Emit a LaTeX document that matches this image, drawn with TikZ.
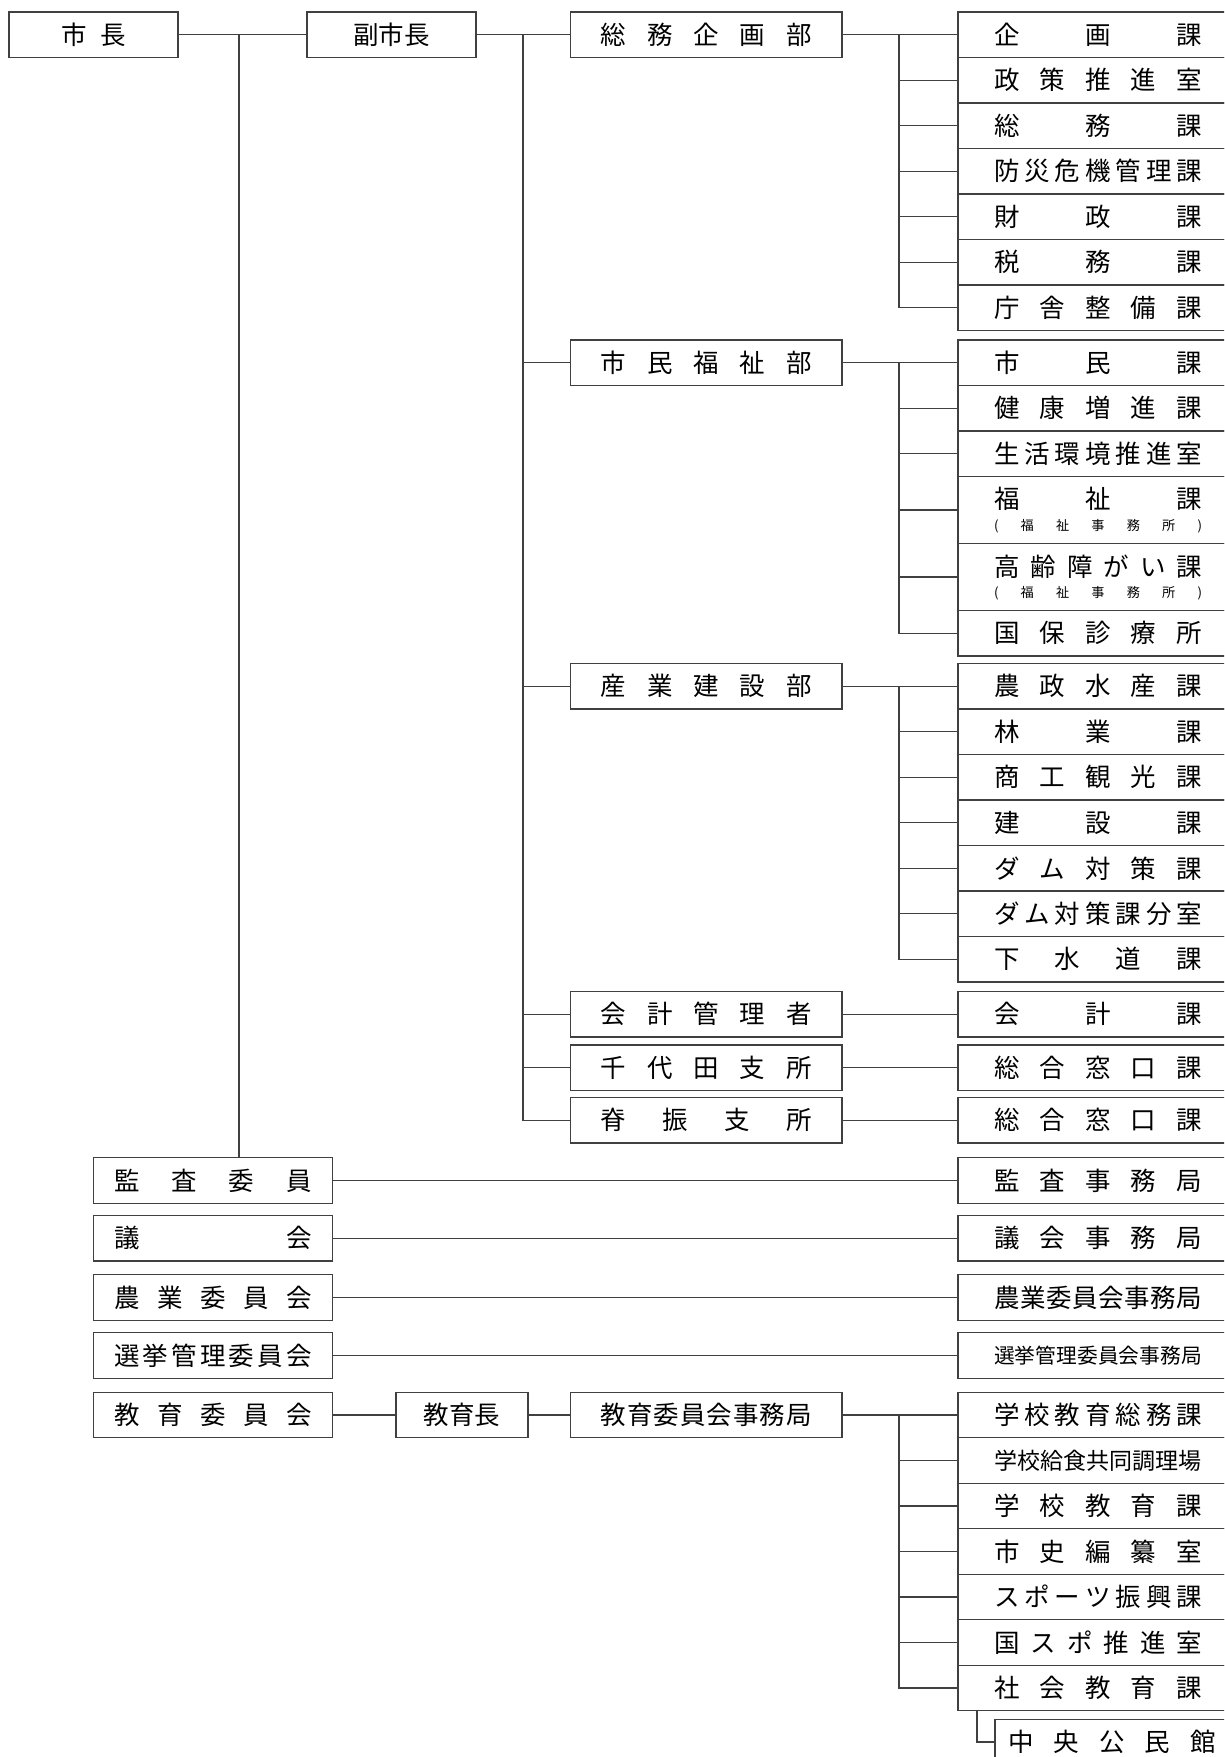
\documentclass[tikz,border=0pt]{standalone}
\usepackage{fontspec}
\setmainfont{Noto Sans CJK JP}
\newcommand\fmain{\fontsize{14.5}{17}\selectfont}
\newcommand\fsmall{\fontsize{7.5}{9}\selectfont}
\newcommand\fmid{\fontsize{13.1}{15}\selectfont}
\newcommand\fnarrow{\fontsize{11.8}{14}\selectfont}
\newcommand\sprR[1]{\makebox[4.16cm][s]{#1}}
\newcommand\sprD[1]{\makebox[4.22cm][s]{#1}}
\newcommand\sprL[1]{\makebox[3.96cm][s]{#1}}
\begin{document}
\begin{tikzpicture}[x=0.02cm,y=-0.02cm,
  orgbox/.style={draw=black!75, line width=0.7pt, fill=white, inner sep=0pt, minimum height=0.91cm, font=\fmain},
  secbox/.style={orgbox, minimum width=5.6cm},
  deptbox/.style={orgbox, minimum width=5.43cm},
  cmtbox/.style={orgbox, minimum width=4.79cm},
  topbox/.style={orgbox, minimum width=3.38cm},
  tallbox/.style={secbox, minimum height=1.34cm},
  txt/.style={inner sep=0pt, font=\fmain},
  conn/.style={draw=black!75, line width=0.7pt}]
\useasboundingbox (0,0) rectangle (1224,1757);
\clip (0,0) rectangle (1224,1757);

\node[topbox] (mayor) at (93.5,34.75) {\makebox[1.3cm][s]{市\hfill 長}};
\node[topbox] (vice) at (391.5,34.75) {副市長};

\node[deptbox] (soumu) at (706.3,34.75) {\sprD{総\hfill 務\hfill 企\hfill 画\hfill 部}};
\node[secbox] (kikaku) at (1098,34.75) {\sprR{企\hfill 画\hfill 課}};
\node[secbox] (seisaku) at (1098,80.25) {\sprR{政\hfill 策\hfill 推\hfill 進\hfill 室}};
\node[secbox] (soumuka) at (1098,125.75) {\sprR{総\hfill 務\hfill 課}};
\node[secbox] (bousai) at (1098,171.25) {\sprR{防\hfill 災\hfill 危\hfill 機\hfill 管\hfill 理\hfill 課}};
\node[secbox] (zaisei) at (1098,216.75) {\sprR{財\hfill 政\hfill 課}};
\node[secbox] (zeimu) at (1098,262.25) {\sprR{税\hfill 務\hfill 課}};
\node[secbox] (choosha) at (1098,307.75) {\sprR{庁\hfill 舎\hfill 整\hfill 備\hfill 課}};

\node[deptbox] (shimin) at (706.3,362.75) {\sprD{市\hfill 民\hfill 福\hfill 祉\hfill 部}};
\node[secbox] (shiminka) at (1098,362.75) {\sprR{市\hfill 民\hfill 課}};
\node[secbox] (kenkou) at (1098,408.25) {\sprR{健\hfill 康\hfill 増\hfill 進\hfill 課}};
\node[secbox] (seikatsu) at (1098,453.75) {\sprR{生\hfill 活\hfill 環\hfill 境\hfill 推\hfill 進\hfill 室}};
\node[tallbox] (fukushi) at (1098,510) {};
\node[txt] (fukushi-t) at (1098,499.25) {\sprR{福\hfill 祉\hfill 課}};
\node[txt,font=\fsmall] (fukushi-s) at (1098,526) {\sprR{(\hfill 福\hfill 祉\hfill 事\hfill 務\hfill 所\hfill )}};
\node[tallbox] (kourei) at (1098,577) {};
\node[txt] (kourei-t) at (1098,566.25) {\sprR{高\hfill 齢\hfill 障\hfill が\hfill い\hfill 課}};
\node[txt,font=\fsmall] (kourei-s) at (1098,593) {\sprR{(\hfill 福\hfill 祉\hfill 事\hfill 務\hfill 所\hfill )}};
\node[secbox] (kokuho) at (1098,633.25) {\sprR{国\hfill 保\hfill 診\hfill 療\hfill 所}};

\node[deptbox] (sangyo) at (706.3,686.25) {\sprD{産\hfill 業\hfill 建\hfill 設\hfill 部}};
\node[secbox] (nousei) at (1098,686.25) {\sprR{農\hfill 政\hfill 水\hfill 産\hfill 課}};
\node[secbox] (ringyo) at (1098,731.75) {\sprR{林\hfill 業\hfill 課}};
\node[secbox] (shoukou) at (1098,777.25) {\sprR{商\hfill 工\hfill 観\hfill 光\hfill 課}};
\node[secbox] (kensetsu) at (1098,822.75) {\sprR{建\hfill 設\hfill 課}};
\node[secbox] (damu) at (1098,868.25) {\sprR{ダ\hfill ム\hfill 対\hfill 策\hfill 課}};
\node[secbox] (damubun) at (1098,913.75) {\sprR{ダ\hfill ム\hfill 対\hfill 策\hfill 課\hfill 分\hfill 室}};
\node[secbox] (gesui) at (1098,959.25) {\sprR{下\hfill 水\hfill 道\hfill 課}};

\node[deptbox] (kaikei) at (706.3,1014.25) {\sprD{会\hfill 計\hfill 管\hfill 理\hfill 者}};
\node[secbox] (kaikeika) at (1098,1014.25) {\sprR{会\hfill 計\hfill 課}};
\node[deptbox] (chiyoda) at (706.3,1067.75) {\sprD{千\hfill 代\hfill 田\hfill 支\hfill 所}};
\node[secbox] (chiyodama) at (1098,1067.75) {\sprR{総\hfill 合\hfill 窓\hfill 口\hfill 課}};
\node[deptbox] (sefuri) at (706.3,1120.25) {\sprD{脊\hfill 振\hfill 支\hfill 所}};
\node[secbox] (sefurima) at (1098,1120.25) {\sprR{総\hfill 合\hfill 窓\hfill 口\hfill 課}};

\node[cmtbox] (kansa) at (213,1180.5) {\sprL{監\hfill 査\hfill 委\hfill 員}};
\node[secbox] (kansajim) at (1098,1180.5) {\sprR{監\hfill 査\hfill 事\hfill 務\hfill 局}};
\node[cmtbox] (gikai) at (213,1238.2) {\sprL{議\hfill 会}};
\node[secbox] (gikaijim) at (1098,1238.2) {\sprR{議\hfill 会\hfill 事\hfill 務\hfill 局}};
\node[cmtbox] (nougyo) at (213,1297.5) {\sprL{農\hfill 業\hfill 委\hfill 員\hfill 会}};
\node[secbox] (nougyojim) at (1098,1297.5) {\sprR{農\hfill 業\hfill 委\hfill 員\hfill 会\hfill 事\hfill 務\hfill 局}};
\node[cmtbox] (senkyo) at (213,1355.6) {\sprL{選\hfill 挙\hfill 管\hfill 理\hfill 委\hfill 員\hfill 会}};
\node[secbox,font=\fnarrow] (senkyojim) at (1098,1355.6) {\sprR{選\hfill 挙\hfill 管\hfill 理\hfill 委\hfill 員\hfill 会\hfill 事\hfill 務\hfill 局}};

\node[cmtbox] (kyoiku) at (213,1415) {\sprL{教\hfill 育\hfill 委\hfill 員\hfill 会}};
\node[orgbox, minimum width=2.64cm] (kyoikucho) at (462,1415) {教育長};
\node[deptbox] (kyoikujim) at (706.3,1415) {\sprD{教\hfill 育\hfill 委\hfill 員\hfill 会\hfill 事\hfill 務\hfill 局}};
\node[secbox] (gakkousoumu) at (1098,1415) {\sprR{学\hfill 校\hfill 教\hfill 育\hfill 総\hfill 務\hfill 課}};
\node[secbox,font=\fmid] (kyushoku) at (1098,1460.5) {\sprR{学\hfill 校\hfill 給\hfill 食\hfill 共\hfill 同\hfill 調\hfill 理\hfill 場}};
\node[secbox] (gakkou) at (1098,1506) {\sprR{学\hfill 校\hfill 教\hfill 育\hfill 課}};
\node[secbox] (shishi) at (1098,1551.5) {\sprR{市\hfill 史\hfill 編\hfill 纂\hfill 室}};
\node[secbox] (sports) at (1098,1597) {\sprR{ス\hfill ポ\hfill ー\hfill ツ\hfill 振\hfill 興\hfill 課}};
\node[secbox] (kokuspo) at (1098,1642.5) {\sprR{国\hfill ス\hfill ポ\hfill 推\hfill 進\hfill 室}};
\node[secbox] (shakai) at (1098,1688) {\sprR{社\hfill 会\hfill 教\hfill 育\hfill 課}};
\node[orgbox, minimum width=4.68cm] (kouminkan) at (1112,1742) {\sprR{中\hfill 央\hfill 公\hfill 民\hfill 館}};

\coordinate (mv) at (239,34.75);
\coordinate (dv) at (523,34.75);
\coordinate (g1) at (899,34.75);
\coordinate (g2) at (899,362.75);
\coordinate (g3) at (899,686.25);
\coordinate (g4) at (899,1415);
\coordinate (kc) at (977,1710.75);

\draw[conn] (mayor) -- (vice);
\draw[conn] (mv) -- (mv |- kansa.north);
\draw[conn] (vice) -- (soumu);
\draw[conn] (dv) |- (sefuri);
\foreach \n in {shimin,sangyo,kaikei,chiyoda} \draw[conn] (dv |- \n) -- (\n);

\draw[conn] (soumu) -- (kikaku);
\draw[conn] (g1) |- (choosha);
\foreach \n in {seisaku,soumuka,bousai,zaisei,zeimu} \draw[conn] (g1 |- \n) -- (\n);

\draw[conn] (shimin) -- (shiminka);
\draw[conn] (g2) |- (kokuho);
\foreach \n in {kenkou,seikatsu,fukushi,kourei} \draw[conn] (g2 |- \n) -- (\n);

\draw[conn] (sangyo) -- (nousei);
\draw[conn] (g3) |- (gesui);
\foreach \n in {ringyo,shoukou,kensetsu,damu,damubun} \draw[conn] (g3 |- \n) -- (\n);

\draw[conn] (kaikei) -- (kaikeika);
\draw[conn] (chiyoda) -- (chiyodama);
\draw[conn] (sefuri) -- (sefurima);

\draw[conn] (kansa) -- (kansajim);
\draw[conn] (gikai) -- (gikaijim);
\draw[conn] (nougyo) -- (nougyojim);
\draw[conn] (senkyo) -- (senkyojim);

\draw[conn] (kyoiku) -- (kyoikucho);
\draw[conn] (kyoikucho) -- (kyoikujim);
\draw[conn] (kyoikujim) -- (gakkousoumu);
\draw[conn] (g4) |- (shakai);
\foreach \n in {kyushoku,gakkou,shishi,sports,kokuspo} \draw[conn] (g4 |- \n) -- (\n);
\draw[conn] (kc) |- (kouminkan);
\end{tikzpicture}
\end{document}
